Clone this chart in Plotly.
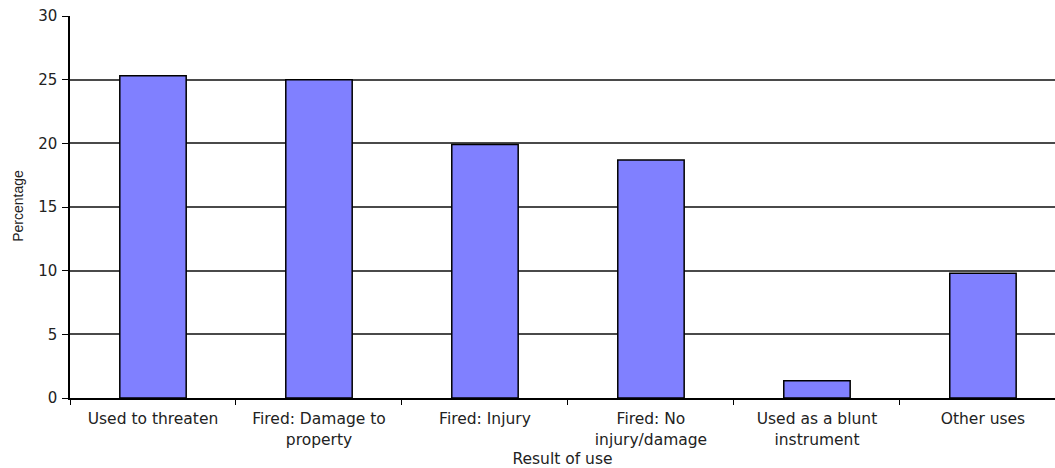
import plotly.graph_objects as go

categories = [
    "Used to threaten",
    "Fired: Damage to<br>property",
    "Fired: Injury",
    "Fired: No<br>injury/damage",
    "Used as a blunt<br>instrument",
    "Other uses",
]
percentages = [25.3, 25.0, 19.9, 18.7, 1.35, 9.8]
y_ticks = [0, 5, 10, 15, 20, 25, 30]

font_family = "DejaVu Sans, Verdana, sans-serif"
text_color = "#222222"

fig = go.Figure(
    go.Bar(
        x=categories,
        y=percentages,
        width=0.4,
        marker=dict(color="#8080FF", line=dict(color="#000000", width=1.5)),
    )
)

fig.update_layout(
    width=1055,
    height=468,
    margin=dict(l=70, r=0, t=16, b=70),
    paper_bgcolor="white",
    plot_bgcolor="white",
    showlegend=False,
    font=dict(family=font_family, color=text_color),
    xaxis=dict(
        type="category",
        range=[-0.5, 5.434],
        tickson="boundaries",
        ticks="outside",
        ticklen=5,
        tickcolor="#000000",
        ticklabelstandoff=6,
        showline=True,
        linecolor="#000000",
        linewidth=1.5,
        showgrid=False,
        tickfont=dict(size=15.5, color=text_color),
        title=dict(text="Result of use", font=dict(size=15.5, color=text_color), standoff=8),
    ),
    yaxis=dict(
        range=[0, 30],
        tickvals=y_ticks,
        ticks="outside",
        ticklen=6,
        tickcolor="#000000",
        ticklabelstandoff=2,
        showline=True,
        linecolor="#000000",
        linewidth=1.5,
        showgrid=True,
        gridcolor="#4a4a4a",
        gridwidth=1.6,
        zeroline=False,
        tickfont=dict(size=15, color=text_color),
    ),
    annotations=[
        dict(
            text="Percentage",
            textangle=-90,
            xref="paper",
            yref="paper",
            x=-0.0528,
            y=0.503,
            xanchor="center",
            yanchor="middle",
            showarrow=False,
            font=dict(family="Liberation Sans, Arial, sans-serif", size=14, color=text_color),
        )
    ],
)

fig.write_html("out.html")
